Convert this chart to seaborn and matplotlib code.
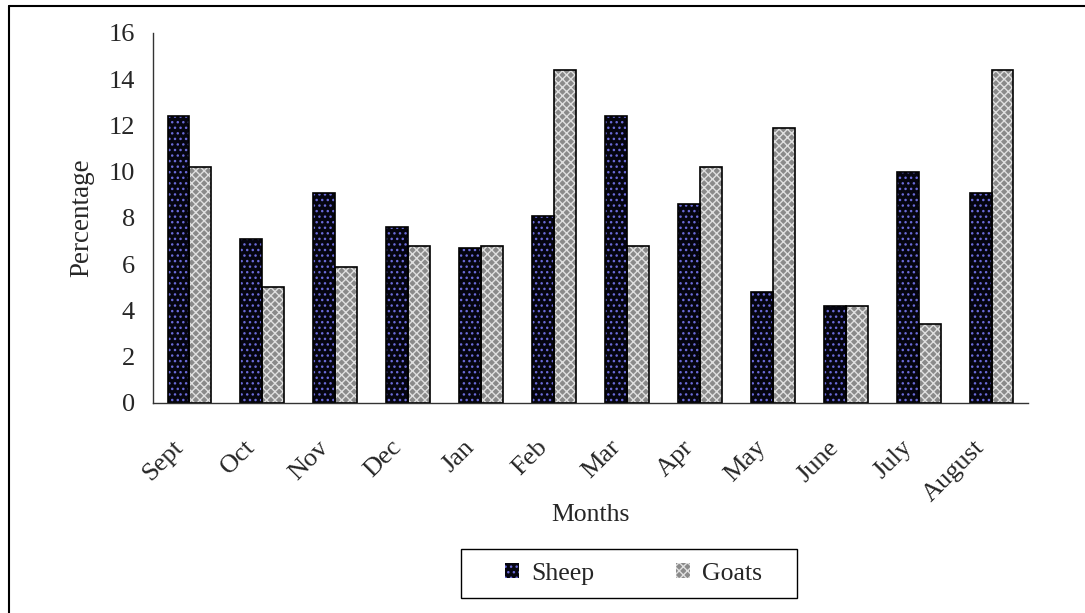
import matplotlib
matplotlib.use("Agg")
import matplotlib.pyplot as plt
import matplotlib.transforms as mtransforms
from matplotlib.patches import Rectangle, Patch
from matplotlib.lines import Line2D
import seaborn as sns
import pandas as pd

months = ["Sept", "Oct", "Nov", "Dec", "Jan", "Feb", "Mar", "Apr", "May",
          "June", "July", "August"]
sheep = [12.4, 7.1, 9.1, 7.6, 6.7, 8.1, 12.4, 8.6, 4.8, 4.2, 10.0, 9.1]
goats = [10.2, 5.0, 5.9, 6.8, 6.8, 14.4, 6.8, 10.2, 11.9, 4.2, 3.4, 14.4]
species = ["Sheep", "Goats"]
y_ticks = [0, 2, 4, 6, 8, 10, 12, 14, 16]

df = pd.DataFrame({
    "Month": months * 2,
    "Percentage": sheep + goats,
    "Species": [species[0]] * len(months) + [species[1]] * len(months),
})

sns.set_style("white")
plt.rcParams["font.family"] = ["Liberation Serif", "DejaVu Serif"]
plt.rcParams["hatch.linewidth"] = 1.0

FS = 19
fig = plt.figure(figsize=(10.85, 6.13), dpi=100)
ax = fig.add_axes([0.141, 0.3426, 0.8065, 0.6036])

styles = {
    "Sheep": dict(face="#050510", hatch="...", hcolor="#6a6ad8"),
    "Goats": dict(face="#8a8a8a", hatch="xxxx", hcolor="#e0e0e0"),
}

sns.barplot(data=df, x="Month", y="Percentage", hue="Species",
            order=months, hue_order=species,
            palette={s: styles[s]["face"] for s in species},
            width=0.6, gap=0, dodge=True, legend=False, ax=ax)

bars = list(ax.patches)
n = len(months)
for i, p in enumerate(bars):
    st = styles[species[i // n]]
    p.set_facecolor(st["face"])
    p.set_edgecolor(st["hcolor"])
    p.set_hatch(st["hatch"])
    p.set_linewidth(0)
    ax.add_patch(Rectangle(p.get_xy(), p.get_width(), p.get_height(),
                           fill=False, edgecolor="black", linewidth=1.2,
                           zorder=p.get_zorder() + 0.1))

ax.set_ylim(0, 16)
ax.set_yticks(y_ticks)
ax.set_xlim(-0.5, n - 0.5)
ax.set_xticks(range(n))
ax.set_xticklabels(months, rotation=45, ha="right", rotation_mode="anchor",
                   fontsize=FS)
ax.set_xticks([i - 0.5 for i in range(n + 1)], minor=True)
ax.tick_params(axis="x", which="major", length=0, pad=24)
ax.tick_params(axis="x", which="minor", length=7, width=1, color="#333333",
               direction="out")
ax.tick_params(axis="y", length=7, width=1, color="#333333", direction="out",
               labelsize=FS, pad=6)
# nudge the slanted month labels to the left of their category centres
shift = mtransforms.ScaledTranslation(-18 / 100, 0, fig.dpi_scale_trans)
for tick in ax.xaxis.get_major_ticks():
    tick.label1.set_transform(tick.label1.get_transform() + shift)

for s in ["top", "right"]:
    ax.spines[s].set_visible(False)
for s in ["left", "bottom"]:
    ax.spines[s].set_color("#333333")
    ax.spines[s].set_linewidth(1)

ax.set_xlabel("Months", fontsize=18.5, labelpad=-1)
ax.set_ylabel("Percentage", fontsize=19.5, labelpad=10)

handles = [Patch(facecolor=styles[s]["face"], edgecolor=styles[s]["hcolor"],
                 hatch=styles[s]["hatch"], linewidth=0) for s in species]
leg = fig.legend(handles, species, loc="center", bbox_to_anchor=(0.584, 0.064),
                 ncol=2, frameon=False, fontsize=18.5, handlelength=0.55,
                 handleheight=0.55, handletextpad=0.45, columnspacing=3.2)
# legend box
fig.add_artist(Rectangle((461 / 1085, 1 - 598 / 613), 336 / 1085, 49 / 613,
                         transform=fig.transFigure, fill=False,
                         edgecolor="black", linewidth=1))
# chart-area border (left and top edges)
fig.add_artist(Line2D([9 / 1085, 9 / 1085], [0, 1 - 6 / 613],
                      transform=fig.transFigure, color="black", linewidth=1.5))
fig.add_artist(Line2D([9 / 1085, 1], [1 - 6 / 613, 1 - 6 / 613],
                      transform=fig.transFigure, color="black", linewidth=1.5))

fig.savefig("out.png", dpi=100)
